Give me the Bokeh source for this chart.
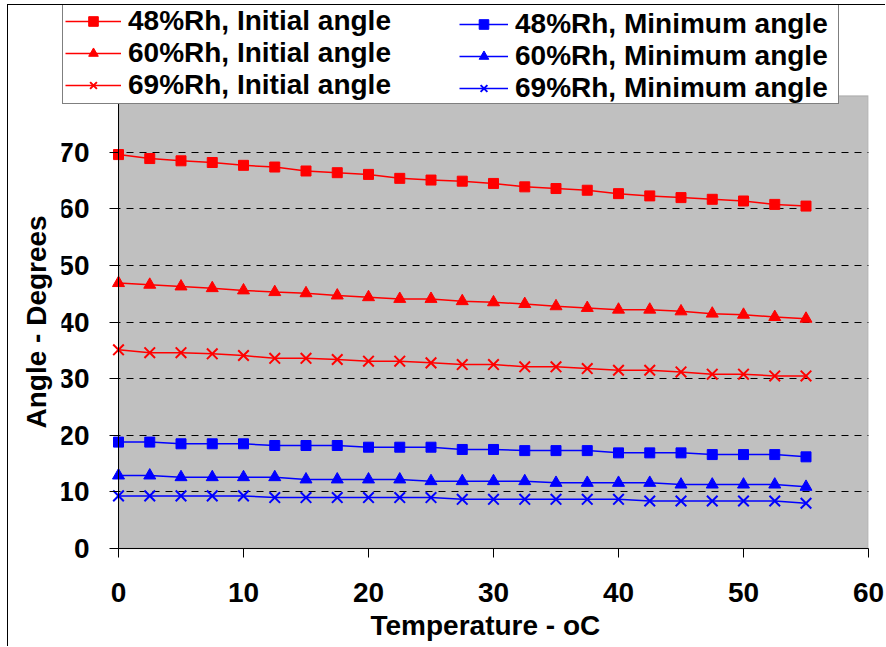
from bokeh.plotting import figure
from bokeh.models import (Range1d, FixedTicker, Legend, LegendItem, BoxAnnotation, Title)
from bokeh.embed import file_html
from bokeh.resources import INLINE

# Temperature (oC) and contact angles (degrees)
temps = [0, 2.5, 5, 7.5, 10, 12.5, 15, 17.5, 20, 22.5, 25, 27.5, 30,
         32.5, 35, 37.5, 40, 42.5, 45, 47.5, 50, 52.5, 55]

rh48_initial = [69.6, 68.9, 68.5, 68.2, 67.7, 67.4, 66.7, 66.4, 66.1, 65.4, 65.1, 64.9,
                64.5, 63.9, 63.6, 63.3, 62.7, 62.3, 62.0, 61.7, 61.4, 60.8, 60.5]
rh60_initial = [46.9, 46.6, 46.3, 46.0, 45.6, 45.3, 45.1, 44.7, 44.4, 44.1, 44.1, 43.7,
                43.5, 43.2, 42.8, 42.5, 42.2, 42.2, 41.9, 41.5, 41.3, 40.9, 40.6]
rh69_initial = [35.1, 34.6, 34.6, 34.4, 34.1, 33.6, 33.6, 33.4, 33.1, 33.1, 32.8, 32.5,
                32.5, 32.1, 32.1, 31.8, 31.5, 31.5, 31.2, 30.8, 30.8, 30.5, 30.5]
rh48_min = [18.8, 18.8, 18.5, 18.5, 18.5, 18.2, 18.2, 18.2, 17.9, 17.9, 17.9, 17.5,
            17.5, 17.3, 17.3, 17.3, 16.9, 16.9, 16.9, 16.6, 16.6, 16.6, 16.2]
rh60_min = [12.9, 12.9, 12.6, 12.6, 12.6, 12.6, 12.2, 12.2, 12.2, 12.2, 11.9, 11.9,
            11.9, 11.9, 11.6, 11.6, 11.6, 11.6, 11.3, 11.3, 11.3, 11.3, 10.9]
rh69_min = [9.3, 9.3, 9.3, 9.3, 9.3, 9.0, 9.0, 9.0, 9.0, 9.0, 9.0, 8.7,
            8.7, 8.7, 8.7, 8.7, 8.7, 8.4, 8.4, 8.4, 8.4, 8.4, 8.0]

x_ticks = [0, 10, 20, 30, 40, 50, 60]
y_ticks = [0, 10, 20, 30, 40, 50, 60, 70]
x_extent = (0, 60)   # axis extent of the temperature scale
y_extent = (0, 80)   # axis extent of the angle scale

FONT = "Liberation Sans"
RED = "#FF0000"
BLUE = "#0000FF"

# The frame also holds the legend band and the tick labels around the
# plotting area, so the visible ranges reach beyond the axis extents.
p = figure(width=878, height=642, output_backend="svg", toolbar_location=None,
           title=None, x_range=Range1d(-4.56, 61.44), y_range=Range1d(-10.42, 95.94),
           min_border_left=53, min_border_right=0,
           min_border_top=0, min_border_bottom=40,
           margin=(4, 0, 0, 7),
           styles={"border-left": "1px solid black", "border-top": "1px solid black"})

p.background_fill_color = "white"
p.border_fill_color = "white"
p.outline_line_color = None

# Grey plotting area
p.add_layout(BoxAnnotation(left=x_extent[0], right=x_extent[1],
                           bottom=y_extent[0], top=y_extent[1],
                           fill_color="#C0C0C0", fill_alpha=1.0,
                           line_color="#808080", line_width=1.5, level="image"))

# Axes, anchored at the origin of the data
p.xaxis.ticker = FixedTicker(ticks=x_ticks)
p.yaxis.ticker = FixedTicker(ticks=y_ticks)
p.xaxis.bounds = x_extent
p.yaxis.bounds = y_extent
p.xaxis.fixed_location = 0
p.yaxis.fixed_location = 0
for ax in (p.xaxis, p.yaxis):
    ax.axis_line_color = "black"
    ax.axis_line_width = 1
    ax.major_tick_line_color = "black"
    ax.major_tick_out = 9
    ax.major_tick_in = 0
    ax.minor_tick_line_color = None
    ax.major_label_text_font = FONT
    ax.major_label_text_font_style = "bold"
    ax.major_label_text_font_size = "28px"
    ax.major_label_text_color = "black"
p.xaxis.major_label_standoff = 25
p.yaxis.major_label_standoff = 20

# Axis titles
p.add_layout(Title(text="Temperature - oC", align="left", offset=309,
                   vertical_align="middle", standoff=2,
                   text_font=FONT, text_font_style="bold", text_font_size="28px",
                   text_color="black"), "below")
p.add_layout(Title(text="Angle - Degrees", align="left", offset=179,
                   vertical_align="middle", standoff=18,
                   text_font=FONT, text_font_style="bold", text_font_size="28px",
                   text_color="black"), "left")

# Grid
p.xgrid.grid_line_color = None
p.ygrid.ticker = FixedTicker(ticks=[10, 20, 30, 40, 50, 60, 70])
p.ygrid.grid_line_color = "black"
p.ygrid.grid_line_width = 1
p.ygrid.grid_line_dash = "7 6"

# Keep the dashed grid inside the plotting area
p.add_layout(BoxAnnotation(right=x_extent[0], fill_color="white", fill_alpha=1.0,
                           line_color=None, level="underlay"))
p.add_layout(BoxAnnotation(left=x_extent[1], fill_color="white", fill_alpha=1.0,
                           line_color=None, level="underlay"))

# Series
series = [
    ("48%Rh, Initial angle", rh48_initial, RED, "square", 10),
    ("60%Rh, Initial angle", rh60_initial, RED, "triangle", 12),
    ("69%Rh, Initial angle", rh69_initial, RED, "x", 15),
    ("48%Rh, Minimum angle", rh48_min, BLUE, "square", 10),
    ("60%Rh, Minimum angle", rh60_min, BLUE, "triangle", 12),
    ("69%Rh, Minimum angle", rh69_min, BLUE, "x", 15),
]

items = []
for label, vals, color, marker, size in series:
    ln = p.line(temps, vals, line_color=color, line_width=1.5)
    mk = p.scatter(temps, vals, marker=marker, size=size, fill_color=color,
                   line_color=color, line_width=2 if marker == "x" else 1)
    items.append(LegendItem(label=label, renderers=[ln, mk]))


def make_legend(its, loc, boxed, glyph_width, label_width):
    lg = Legend(items=its, location=loc, orientation="vertical",
                label_text_font=FONT, label_text_font_style="bold",
                label_text_font_size="28px", label_text_color="black",
                glyph_width=glyph_width, glyph_height=24, label_height=24,
                label_standoff=7, label_width=label_width,
                spacing=0, padding=2, margin=0)
    if boxed:
        lg.border_line_color = "black"
        lg.border_line_width = 1
        lg.background_fill_color = "white"
        lg.background_fill_alpha = 1.0
    else:
        lg.border_line_color = None
        lg.background_fill_alpha = 0.0
    return lg


p.add_layout(make_legend(items[:3], (1, 503), True, 56, 708))
p.add_layout(make_legend(items[3:], (398, 503), False, 49, 0))

open("out.html", "w").write(file_html(p, INLINE))
